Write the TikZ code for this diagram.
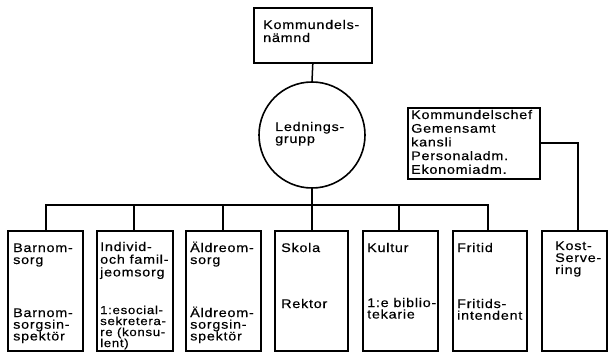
\documentclass[tikz,border=0pt]{standalone}
\usepackage{fontspec}
\setmainfont{Liberation Sans}[LetterSpace=6, FakeStretch=1.15, FakeBold=0.4]
\newcommand\mlines[2]{\vtop{\baselineskip=#1\lineskiplimit=-50pt\lineskip=0pt\def\\{\egroup\hbox\bgroup}\hbox\bgroup #2\egroup}}
\tikzset{
  unit/.style={draw, line width=1.6pt, rectangle, inner sep=0pt, anchor=north west},
  txt/.style={inner sep=0pt, anchor=base west, font=\fontsize{12.5}{14}\selectfont},
  small/.style={font=\fontsize{11.5}{13}\selectfont},
  conn/.style={line width=1.5pt}
}
\begin{document}
\begin{tikzpicture}[x=1pt,y=-1pt]
\useasboundingbox[fill=white] (0,0) rectangle (609,352);
% top
\node[unit, minimum width=118pt, minimum height=55pt] (top) at (253,7) {};
\node[txt] (toptxt) at (263,29) {\mlines{13pt}{Kommundels-\\nämnd}};
% circle
\node[draw, line width=1.6pt, circle, minimum size=106pt, inner sep=0pt] (lg) at (312,135) {};
\node[txt] (lgtxt) at (275,131) {\mlines{12pt}{Lednings-\\grupp}};
% chef box
\node[unit, minimum width=132pt, minimum height=71pt] (chef) at (407,107) {};
\node[txt] (cheftxt) at (411,119) {\mlines{13.7pt}{Kommundelschef\\Gemensamt\\kansli\\Personaladm.\\Ekonomiadm.}};
% bottom boxes
\node[unit, minimum width=75pt, minimum height=120pt] (b1) at (7,230) {};
\node[unit, minimum width=76pt, minimum height=120pt] (b2) at (96,230) {};
\node[unit, minimum width=75pt, minimum height=120pt] (b3) at (185,230) {};
\node[unit, minimum width=73pt, minimum height=120pt] (b4) at (274,230) {};
\node[unit, minimum width=75pt, minimum height=120pt] (b5) at (362,230) {};
\node[unit, minimum width=74pt, minimum height=120pt] (b6) at (452,230) {};
\node[unit, minimum width=65pt, minimum height=120pt] (b7) at (541,230) {};
% texts
\node[txt] (t1a) at (13,252) {\mlines{12pt}{Barnom-\\sorg}};
\node[txt] (t1b) at (13,317) {\mlines{11.7pt}{Barnom-\\sorgsin-\\spektör}};
\node[txt] (t2a) at (100,251) {\mlines{12.7pt}{Individ-\\och famil-\\jeomsorg}};
\node[txt, small] (t2b) at (100,314) {\mlines{11pt}{1:esocial-\\sekretera-\\re (konsu-\\lent)}};
\node[txt] (t3a) at (190,252) {\mlines{12pt}{Äldreom-\\sorg}};
\node[txt] (t3b) at (190,317) {\mlines{11.7pt}{Äldreom-\\sorgsin-\\spektör}};
\node[txt] (t4a) at (281,252) {Skola};
\node[txt] (t4b) at (281,308) {Rektor};
\node[txt] (t5a) at (367,252) {Kultur};
\node[txt] (t5b) at (367,307) {\mlines{11.5pt}{1:e biblio-\\tekarie}};
\node[txt] (t6a) at (457,252) {Fritid};
\node[txt] (t6b) at (457,308) {\mlines{11.7pt}{Fritids-\\intendent}};
\node[txt] (t7a) at (555,250) {\mlines{12pt}{Kost-\\Serve-\\ring}};
% connectors
\coordinate (bus) at (0,205);
\coordinate (c1) at (46,230);
\coordinate (c2) at (134,230);
\coordinate (c3) at (223,230);
\coordinate (c5) at (399,230);
\coordinate (c6) at (488,230);
\coordinate (c7) at (578,230);
\coordinate (cr) at (578,143);
\draw[conn] (top.south) -- (lg.north);
\draw[conn] (lg.south) -- (lg.south |- b4.north);
\draw[conn] (c1) -- (c1 |- bus) -- (c6 |- bus) -- (c6);
\draw[conn] (c2) -- (c2 |- bus);
\draw[conn] (c3) -- (c3 |- bus);
\draw[conn] (c5) -- (c5 |- bus);
\draw[conn] (chef.east |- cr) -- (cr) -- (c7);
\end{tikzpicture}
\end{document}
